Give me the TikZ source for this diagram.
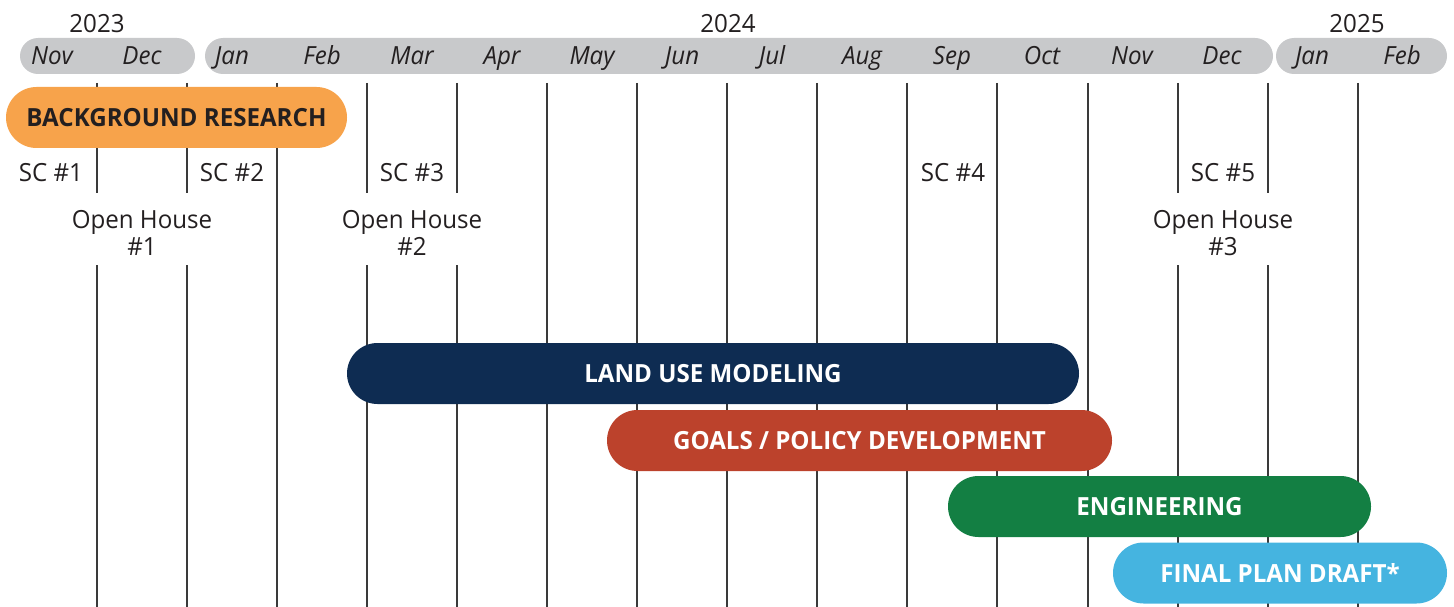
\documentclass[tikz,border=0pt]{standalone}
\usepackage{fontspec}
\setmainfont[FakeStretch=0.965]{Open Sans}
\usetikzlibrary{shapes.misc}
\definecolor{pillgrey}{HTML}{C8C9CB}
\definecolor{ink}{HTML}{231F20}
\definecolor{gridline}{HTML}{3A3A3A}
\definecolor{cOrange}{HTML}{F7A34B}
\definecolor{cNavy}{HTML}{0E2C52}
\definecolor{cRed}{HTML}{BC422C}
\definecolor{cGreen}{HTML}{137F43}
\definecolor{cSky}{HTML}{45B4E0}
\begin{document}
\begin{tikzpicture}[x=1pt,y=-1pt,
  pill/.style={rounded rectangle, fill=pillgrey, draw=none, minimum height=36pt, inner sep=0pt},
  month/.style={anchor=base, inner sep=0pt, text=ink, font=\fontsize{25}{27}\selectfont\itshape},
  year/.style={anchor=base, inner sep=0pt, text=ink, font=\fontsize{25}{27}\selectfont},
  lbl/.style={anchor=base, inner sep=0pt, text=ink, align=center, font=\fontsize{25}{27}\selectfont},
  bar/.style={rounded rectangle, draw=none, minimum height=61pt, inner sep=0pt, text=white, font=\fontsize{25}{27}\selectfont\bfseries},
  grid/.style={draw=gridline, line width=1.3pt}
]
\useasboundingbox (0,0) rectangle (1454,607);
% month pills
\node[pill, minimum width=175pt] (p1) at (107.5,56) {};
\node[pill, minimum width=1068pt] (p2) at (739,56) {};
\node[pill, minimum width=171pt] (p3) at (1361.5,56) {};
% years
\node[year] (y23) at (97,33) {2023};
\node[year] (y24) at (728,33) {2024};
\node[year] (y25) at (1357,33) {2025};
% months
\foreach \m [count=\i from 0] in {Nov,Dec,Jan,Feb,Mar,Apr,May,Jun,Jul,Aug,Sep,Oct,Nov,Dec,Jan,Feb}
  \node[month] (m\i) at (52+90*\i,65) {\m};
% grid lines: broken around labels
\foreach \x in {97,187,367,457,1178,1268} {
  \coordinate (ta\x) at (\x,83); \coordinate (tb\x) at (\x,193);
  \coordinate (ba\x) at (\x,265); \coordinate (bb\x) at (\x,607);
  \draw[grid] (ta\x) -- (tb\x);
  \draw[grid] (ba\x) -- (bb\x);
}
\foreach \x in {277,547,637,727,817,907,997,1088,1358} {
  \coordinate (ca\x) at (\x,83); \coordinate (cb\x) at (\x,607);
  \draw[grid] (ca\x) -- (cb\x);
}
% labels
\node[lbl] (sc1) at (51,182) {SC \#1};
\node[lbl] (sc2) at (232,182) {SC \#2};
\node[lbl] (sc3) at (412,182) {SC \#3};
\node[lbl] (sc4) at (953,182) {SC \#4};
\node[lbl] (sc5) at (1223,182) {SC \#5};
\node[lbl] (oh1) at (142,255) {Open House\\\#1};
\node[lbl] (oh2) at (412,255) {Open House\\\#2};
\node[lbl] (oh3) at (1223,255) {Open House\\\#3};
% bars
\node[bar, fill=cOrange, text=ink, minimum width=341pt] (bg) at (176.5,117.5) {BACKGROUND RESEARCH};
\node[bar, fill=cNavy, minimum width=732pt] (lum) at (713,373.5) {LAND USE MODELING};
\node[bar, fill=cRed, minimum width=505pt] (gpd) at (859.5,440.5) {GOALS / POLICY DEVELOPMENT};
\node[bar, fill=cGreen, minimum width=423pt] (eng) at (1159.5,506.5) {ENGINEERING};
\node[bar, fill=cSky, minimum width=334pt] (fpd) at (1280,573) {FINAL PLAN DRAFT*};
\end{tikzpicture}
\end{document}
